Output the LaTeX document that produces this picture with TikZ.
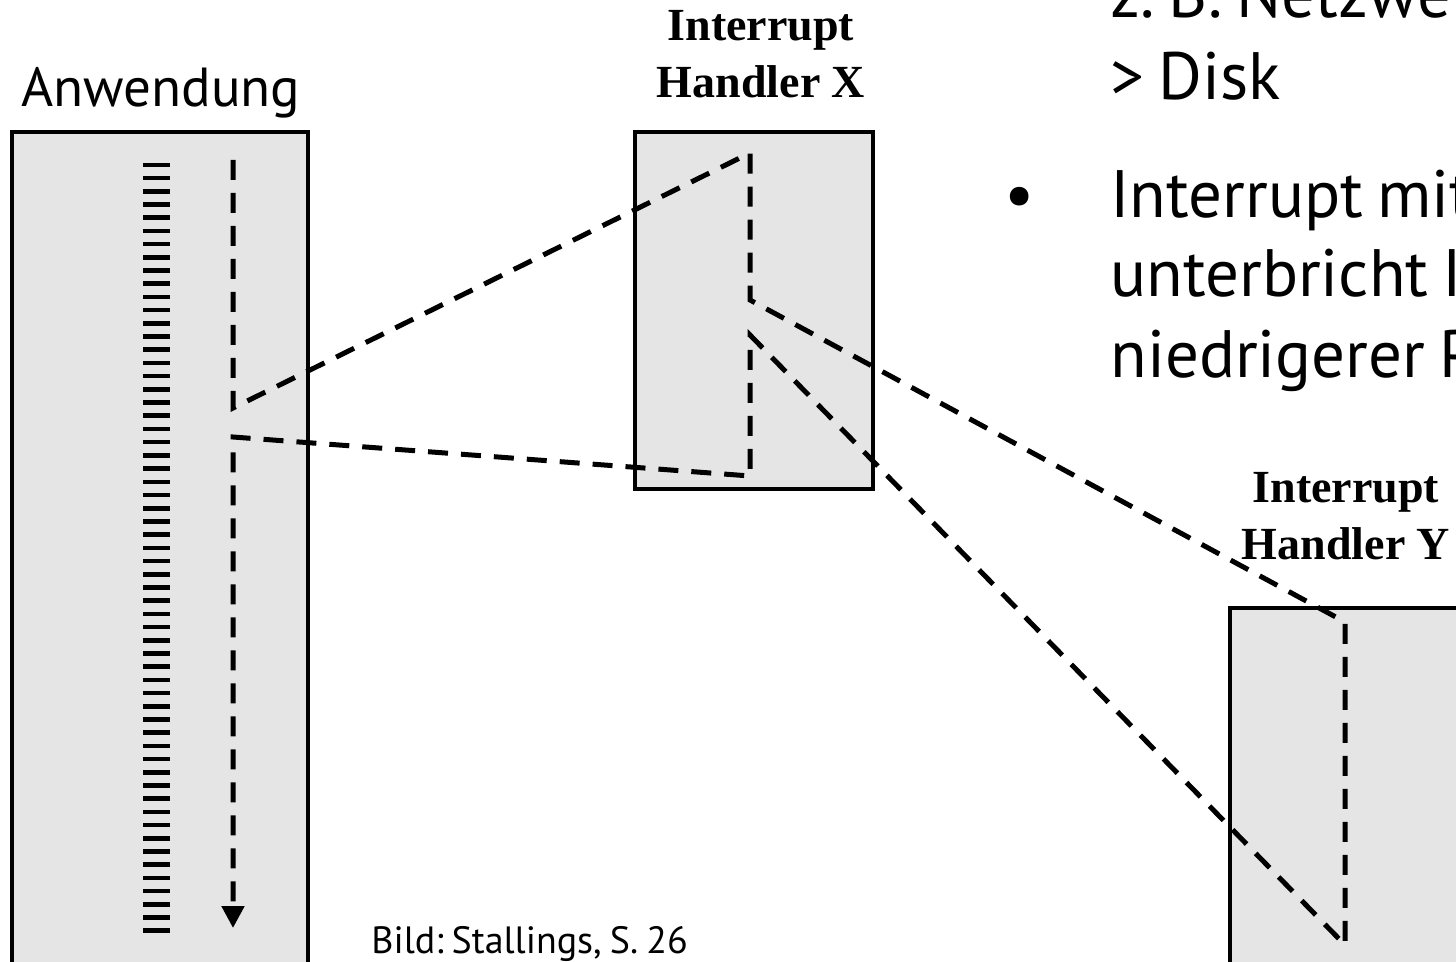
\documentclass[tikz,border=0pt]{standalone}
\usepackage{fontspec}
\setmainfont{PT Sans}[WordSpace=0.8]
\newfontfamily\timesfont{Liberation Serif}
\usetikzlibrary{arrows.meta}
\frenchspacing

\tikzset{
  panel/.style={draw=black, line width=2pt, fill=black!10},
  flow/.style={line width=2.5pt, dash pattern=on 10pt off 6.5pt},
  hatch/.style={line width=2.3pt},
  handler/.style={align=center, inner sep=0pt, anchor=south,
    font=\timesfont\bfseries\fontsize{23}{28.5}\selectfont},
  slide/.style={anchor=base west, inner sep=0pt, font=\fontsize{33.5}{41}\selectfont},
}

\begin{document}
\begin{tikzpicture}[x=0.5pt, y=-0.5pt]
    \path[use as bounding box] (0,0) rectangle (1456,962);
    \clip (0,0) rectangle (1456,962);

    % Boxes
    \draw[panel] (12,132) rectangle (308,1000);
    \draw[panel] (635,132) rectangle (873,489);
    \draw[panel] (1230,608) rectangle (1500,1000);

    % Instruction stream of the application
    \foreach \i in {0,...,58}
        \draw[hatch] (143,{165+13.2*\i}) -- (170,{165+13.2*\i});

    % Labels
    \node[anchor=base west, inner sep=0pt, font=\fontsize{27.5}{30}\selectfont] (anw) at (21,107) {Anwendung};
    \node[handler] (hx) at (761,98) {Interrupt\\Handler X};
    \node[handler] (hy) at (1346,560) {Interrupt\\Handler Y};
    \node[anchor=base west, inner sep=0pt, font=\fontsize{19}{20}\selectfont] (src) at (371,953) {Bild: Stallings, S. 26};

    % Control flow
    \coordinate (appA) at (233,160);
    \coordinate (appB) at (233,408);
    \coordinate (appC) at (233,437);
    \coordinate (appEnd) at (233,928);
    \coordinate (xTop) at (750,153);
    \coordinate (xMid) at (750,300);
    \coordinate (xBack) at (750,335);
    \coordinate (xEnd) at (750,476);
    \coordinate (yTop) at (1345,622);
    \coordinate (yEnd) at (1345,945);
    \draw[flow, -{Triangle[width=11pt, length=11pt]}] (appA) -- (appB) -- (xTop) -- (xMid) -- (yTop)
        -- (yEnd) -- (xBack) -- (xEnd) -- (appC) -- (appEnd);

    % Slide text (cut off at the border)
    \node[slide] (ln1) at (1110,18) {z. B. Netzwerk -};
    \node[slide] (ln2) at (1110,100) {> Disk};
    \node[anchor=base, inner sep=0pt, font=\fontsize{33.5}{41}\selectfont] (dot) at (1020,218) {•};
    \node[slide] (ln3) at (1110,218) {Interrupt mit höherer};
    \node[slide] (ln4) at (1110,297) {unterbricht Interrupt};
    \node[slide] (ln5) at (1110,378) {niedrigerer Priorität};
\end{tikzpicture}
\end{document}
